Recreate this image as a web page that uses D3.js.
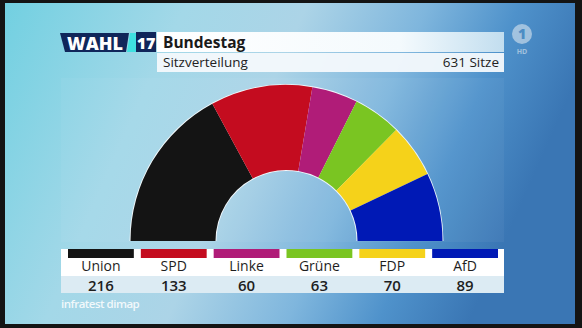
<!DOCTYPE html>
<html><head><meta charset="utf-8">
<script src="https://cdn.jsdelivr.net/npm/d3@7"></script>
<style>html,body{margin:0;padding:0;background:#111;}svg{display:block;}</style>
</head><body>
<svg id="c" width="582" height="328"></svg>
<script>
const parties = ["Union","SPD","Linke","Grüne","FDP","AfD"];
const seats = [216,133,60,63,70,89];
const colors = ["#141414","#c40c1f","#b01c78","#7ac522","#f5d21a","#0019b5"];
const titleText = "Bundestag";
const subtitleText = "Sitzverteilung";
const totalText = "631 Sitze";
const sourceText = "infratest dimap";

const svg = d3.select("#c");
const defs = svg.append("defs");
const bg = defs.append("linearGradient").attr("id","bg").attr("x1","0").attr("y1","0").attr("x2","1").attr("y2","0.25");
[["0%","#72d0e1"],["30%","#a3d8e8"],["50%","#acd4e7"],["70%","#7fb6dd"],["85%","#4f92cb"],["100%","#3a76b4"]]
  .forEach(s=>bg.append("stop").attr("offset",s[0]).attr("stop-color",s[1]));
const hdr = defs.append("linearGradient").attr("id","hdr").attr("x1","0").attr("x2","1");
[["0%","#ffffff",1],["70%","#f4fafd",1],["100%","#cfe6f3",0.9]].forEach(s=>hdr.append("stop").attr("offset",s[0]).attr("stop-color",s[1]).attr("stop-opacity",s[2]));

// frame & background
svg.append("rect").attr("width",582).attr("height",328).attr("fill","#141414");
svg.append("rect").attr("x",5).attr("y",3).attr("width",570).attr("height",321).attr("fill","url(#bg)");
// subtle chart panel
svg.append("rect").attr("x",61).attr("y",78).attr("width",443).attr("height",164).attr("fill","#ffffff").attr("opacity",0.045);

// header
svg.append("path").attr("d","M60,33 L129,33 L126,52 L65,52 Z").attr("fill","#10265a");
svg.append("text").attr("x",95).attr("y",49.5).attr("text-anchor","middle").attr("fill","#fff")
  .attr("font-family","'Open Sans',sans-serif").attr("font-weight",800).attr("font-size",18).text("WAHL");
svg.append("path").attr("d","M130,33 L136,33 L136,52 L127,52 Z").attr("fill","#3fe0e0");
svg.append("rect").attr("x",136).attr("y",32).attr("width",20).attr("height",20).attr("fill","#10265a");
svg.append("text").attr("x",146).attr("y",49).attr("text-anchor","middle").attr("fill","#fff")
  .attr("font-family","'Open Sans',sans-serif").attr("font-weight",800).attr("font-size",16).text("17");
svg.append("rect").attr("x",157).attr("y",32).attr("width",347).attr("height",20).attr("fill","url(#hdr)");
svg.append("rect").attr("x",157).attr("y",53).attr("width",347).attr("height",19).attr("fill","#f4f9fc").attr("opacity",0.95);
svg.append("text").attr("x",163).attr("y",47.5).attr("fill","#1a1a1a")
  .attr("font-family","'Open Sans',sans-serif").attr("font-weight",700).attr("font-size",15.5).text(titleText);
svg.append("text").attr("x",163).attr("y",67).attr("fill","#222")
  .attr("font-family","'Open Sans',sans-serif").attr("font-weight",500).attr("font-size",13.5).text(subtitleText);
svg.append("text").attr("x",499).attr("y",67).attr("text-anchor","end").attr("fill","#222")
  .attr("font-family","'Open Sans',sans-serif").attr("font-weight",500).attr("font-size",13.5).text(totalText);

// ARD logo
const logo = svg.append("g").attr("opacity",0.55);
logo.append("circle").attr("cx",522).attr("cy",34).attr("r",10).attr("fill","#e8eef3");
logo.append("text").attr("x",522).attr("y",39).attr("text-anchor","middle").attr("fill","#4f8cc3")
  .attr("font-family","'Open Sans',sans-serif").attr("font-weight",800).attr("font-size",14).text("1");
logo.append("text").attr("x",522).attr("y",54).attr("text-anchor","middle").attr("fill","#e8eef3")
  .attr("font-family","'Open Sans',sans-serif").attr("font-weight",700).attr("font-size",7).text("HD");

// semicircle
const cx = 286.5, cy = 241, rOuter = 156, rInner = 71;
const pie = d3.pie().sort(null).value(d=>d).startAngle(-Math.PI/2).endAngle(Math.PI/2);
const arc = d3.arc().innerRadius(rInner).outerRadius(rOuter);
const g = svg.append("g").attr("transform",`translate(${cx},${cy})`);
const ring = d3.arc().innerRadius(rInner-1).outerRadius(rOuter+1).startAngle(-Math.PI/2).endAngle(Math.PI/2);
g.append("path").attr("d",ring()).attr("fill","#ffffff").attr("opacity",0.85);
g.selectAll("path.s").data(pie(seats)).join("path").attr("class","s")
  .attr("d",arc).attr("fill",(d,i)=>colors[i]);

// legend
const x = d3.scaleBand().domain(parties).range([64.5,501.5]).paddingInner(0);
svg.append("rect").attr("x",61).attr("y",249).attr("width",443).attr("height",27).attr("fill","#ffffff");
svg.append("rect").attr("x",61).attr("y",276).attr("width",443).attr("height",17).attr("fill","#dcebf3");
const lg = svg.append("g");
lg.selectAll("rect.b").data(parties).join("rect").attr("class","b")
  .attr("x",d=>x(d)+3.5).attr("y",249).attr("width",x.bandwidth()-7).attr("height",9)
  .attr("fill",(d,i)=>colors[i]);
lg.selectAll("text.n").data(parties).join("text").attr("class","n")
  .attr("x",d=>x(d)+x.bandwidth()/2).attr("y",271).attr("text-anchor","middle")
  .attr("font-family","'Open Sans',sans-serif").attr("font-weight",500).attr("font-size",14).attr("fill","#1e1e1e")
  .text(d=>d);
lg.selectAll("text.v").data(parties).join("text").attr("class","v")
  .attr("x",d=>x(d)+x.bandwidth()/2).attr("y",291).attr("text-anchor","middle")
  .attr("font-family","'Open Sans',sans-serif").attr("font-weight",600).attr("font-size",15).attr("fill","#1e1e1e")
  .text((d,i)=>seats[i]);

svg.append("text").attr("x",61).attr("y",307.5).attr("fill","#ffffff").attr("opacity",0.85)
  .attr("font-family","'Open Sans',sans-serif").attr("font-weight",600).attr("font-size",11.5).attr("letter-spacing",-0.5).text(sourceText);
</script>
</body></html>
